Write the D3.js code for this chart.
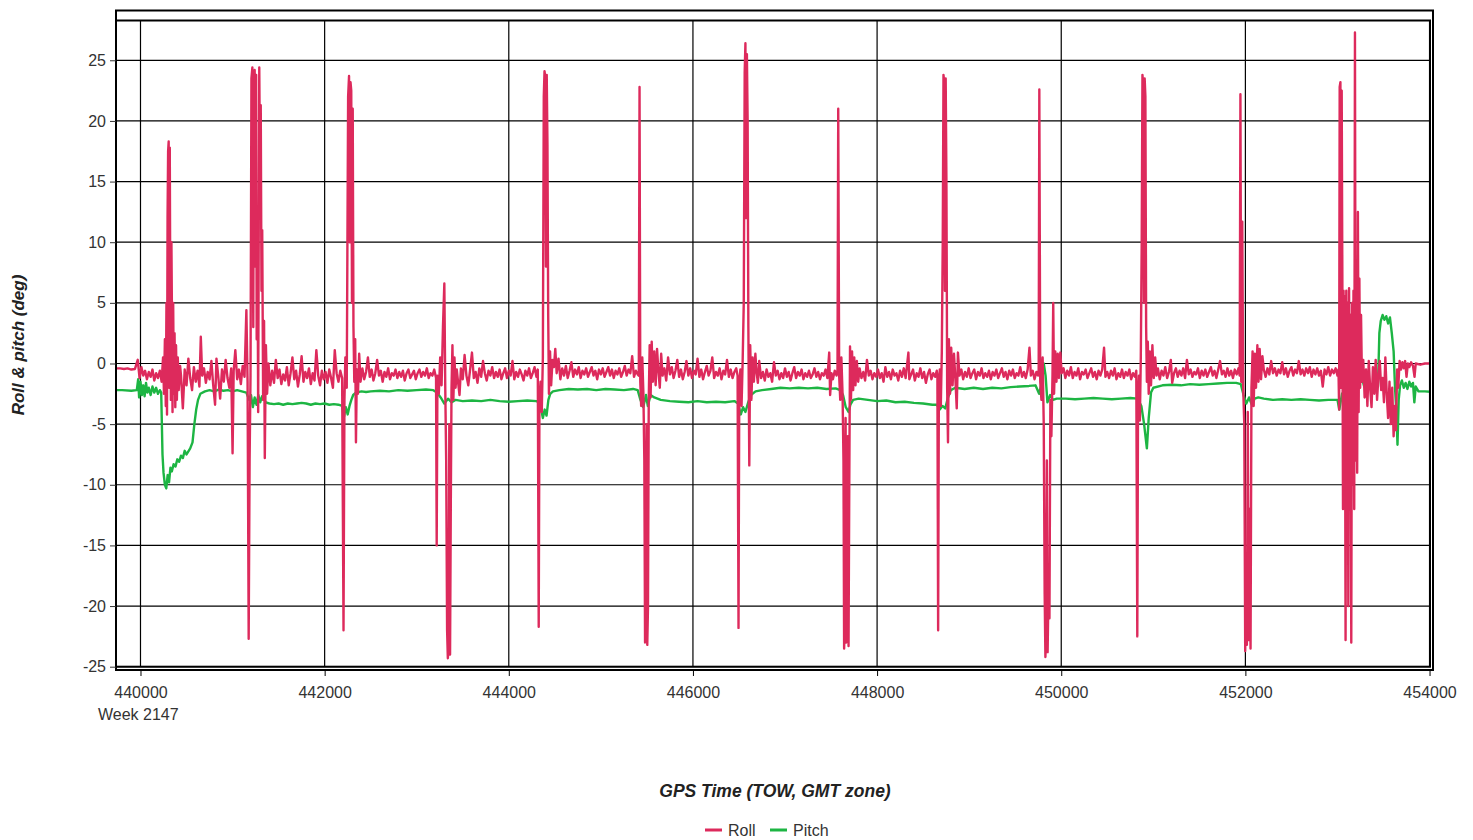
<!DOCTYPE html>
<html><head><meta charset="utf-8">
<script src="https://cdn.jsdelivr.net/npm/d3@7"></script>
<style>html,body{margin:0;padding:0;background:#fff;} svg{display:block;font-family:"Liberation Sans",Arial,sans-serif;}</style>
</head><body><svg id="chart" width="1473" height="840"></svg>
<script>
// ---------------- data ----------------
const seriesNames = ["Roll", "Pitch"];
const xTicks = [440000, 442000, 444000, 446000, 448000, 450000, 452000, 454000];
const yTicks = [-25, -20, -15, -10, -5, 0, 5, 10, 15, 20, 25];
const xDomain = [439734, 454005];
const yDomain = [-25, 28.28];
const weekLabel = "Week 2147";
const xTitle = "GPS Time (TOW, GMT zone)";
const yTitle = "Roll & pitch (deg)";

// [GPS time (TOW), roll deg]
const rollPoints = [
[439739,-0.4],[439780,-0.4],[439820,-0.45],[439860,-0.4],[439900,-0.5],[439940,-0.45],[439970,0.3],[439990,-1.2],[440010,-0.3],[440030,-1.0],[440050,-0.6],[440070,-1.3],[440090,-0.7],[440110,-1.1],[440130,-0.5],[440150,-1.4],[440170,-0.8],[440190,-1.2],[440210,-0.6],[440230,-1.5],[440245,0.5],[440255,-2.5],[440265,2.0],
[440275,-3.5],[440282,5.0],[440288,-4.2],[440294,12.0],[440300,17.5],[440306,18.3],[440312,-2.0],[440318,17.8],[440324,4.8],[440330,-3.0],[440336,10.0],[440342,3.5],[440348,-4.0],[440355,5.0],[440362,-2.5],[440370,2.5],[440378,-3.6],[440386,1.5],[440395,-3.0],[440405,0.5],[440415,-2.2],[440430,-0.2],
[440440,-1.0],[440460,-3.7],[440480,-0.5],[440500,-1.8],[440520,0.4],[440540,-1.2],[440560,-2.2],[440580,-0.3],[440600,-1.5],[440620,-0.6],[440640,-1.9],[440655,2.2],[440670,-1.0],[440690,-0.4],[440710,-1.6],[440730,-0.7],[440750,-1.3],[440770,0.2],[440790,-1.8],[440810,-3.4],[440825,0.4],[440845,-1.1],[440865,-2.9],[440885,-0.5],[440905,-1.5],[440925,0.3],[440945,-1.2],[440965,-2.0],[440985,-0.4],[441000,-7.4],[441012,-0.6],[441030,1.1],[441050,-1.3],[441070,-0.5],[441090,-1.7],[441110,-0.2],[441130,-1.1],[441150,4.4],[441163,-1.5],
[441175,-22.7],[441185,-8],[441195,-1.0],[441205,23.5],[441215,24.4],[441225,3],[441232,24.0],[441240,24.2],[441248,8],[441256,23.8],[441262,2],[441270,12],[441278,-4.0],[441290,24.4],[441298,16],[441306,21.3],[441314,6],[441322,11],[441332,-3.0],[441342,3.5],[441350,-7.8],[441362,1.5],[441375,-2.5],[441390,0.0],[441410,-1.8],
[441430,-0.6],[441450,-1.6],[441470,0.3],[441490,-1.2],[441510,-0.5],[441530,-1.7],[441550,-0.9],[441570,-1.4],[441590,-0.3],[441610,-1.8],[441630,-0.8],[441650,0.5],[441670,-1.3],[441690,-0.6],[441710,-1.9],[441730,-0.9],[441750,0.6],[441770,-1.5],[441790,-0.7],[441810,-1.2],[441830,-0.4],[441850,-1.7],[441870,-0.8],[441890,-1.4],[441910,1.1],[441930,-1.0],[441950,-1.8],[441970,-0.6],[441990,-1.3],[442010,-0.7],[442030,-1.6],[442050,-0.5],[442070,-1.2],[442090,-2.0],[442110,1.1],[442130,-0.8],[442150,-1.5],[442170,-0.6],[442190,-1.2],
[442205,-22.0],[442215,-3],[442225,0.5],[442240,-2],[442255,22],[442265,23.7],[442273,10],[442281,23.2],[442289,22.5],[442297,5],[442305,21],[442313,3],[442322,-1.5],[442332,2],[442340,-6.5],[442350,-0.5],[442362,-2.5],[442375,0.8],[442390,-1.5],
[442410,-0.4],[442430,-1.3],[442450,-0.7],[442470,0.5],[442490,-1.1],[442510,-0.5],[442530,-1.4],[442550,-0.8],[442570,0.3],[442590,-1.0],[442610,-0.6],[442630,-1.5],[442650,-0.7],[442670,-1.1],[442690,-0.4],[442710,-1.3],[442730,-0.8],[442750,-1.0],[442770,-0.5],[442790,-1.2],[442810,-0.7],[442830,-1.1],[442850,-0.6],[442870,-1.4],[442890,-0.8],[442910,-0.5],[442930,-1.2],[442950,-0.9],[442970,-0.6],[442990,-1.3],[443010,-0.8],[443030,-0.5],[443050,-1.1],[443070,-0.7],[443090,-1.0],[443110,-0.4],[443130,-1.2],[443150,-0.8],[443170,-1.0],[443190,-0.5],
[443210,-1.2],[443217,-15.0],[443225,-1],[443240,-2.5],[443255,0.5],[443270,-1.8],[443285,3],[443300,6.6],[443310,-2],[443320,-8],[443330,-22],[443338,-24.3],[443346,-23.5],[443354,-5],[443362,-24.0],[443370,-12],[443378,-2],[443388,1.5],[443398,-3.0],[443410,0.5],[443422,-2.0],[443435,-0.5],
[443450,-1.6],[443465,-2.6],[443480,-0.4],[443500,-1.3],[443520,0.7],[443540,-1.0],[443560,-1.8],[443580,-0.5],[443600,0.9],[443620,-1.2],[443640,-0.7],[443660,-1.6],[443680,-0.4],[443700,-1.1],[443720,0.2],[443740,-0.8],[443760,-1.4],[443780,-0.6],[443800,-1.0],[443820,-0.3],[443840,-1.2],[443860,-0.7],[443880,-1.1],[443900,-0.5],[443920,-1.3],[443940,-0.8],[443960,-0.4],[443980,-1.2],[444000,-0.6],[444020,-1.0],[444040,0.2],[444060,-1.3],[444080,-0.7],[444100,-1.1],[444120,-0.5],[444140,-0.9],[444160,-1.4],[444180,-0.6],[444200,-1.0],[444220,-0.4],[444240,-1.2],[444260,-0.8],[444280,-0.3],[444300,-1.1],
[444315,-0.5],[444325,-21.7],[444333,-3],[444345,-1.5],[444358,-4],[444370,0.5],[444380,22],[444388,24.1],[444396,23.6],[444404,8],[444412,23.8],[444420,18],[444428,4],[444436,-2.5],[444448,1.0],[444460,-1.8],[444475,0.3],
[444490,-0.3],[444505,1.2],[444520,-0.8],[444540,0.4],[444560,-1.3],[444580,-0.4],[444600,-1.0],[444620,-0.2],[444640,-1.2],[444660,-0.6],[444680,0.1],[444700,-1.1],[444720,-0.5],[444740,-0.9],[444760,-0.3],[444780,-1.2],[444800,-0.6],[444820,-0.9],[444840,-0.4],[444860,-1.1],[444880,-0.7],[444900,-0.3],[444920,-1.0],[444940,-0.6],[444960,-1.3],[444980,-0.5],[445000,-0.9],[445020,-0.4],[445040,-1.1],[445060,-0.7],[445080,-0.3],[445100,-1.0],[445120,-0.5],[445140,-1.2],[445160,-0.6],[445180,-0.9],[445200,-0.4],[445220,-1.1],[445240,-0.7],[445260,-0.2],[445280,-1.0],[445300,-0.5],[445320,-0.8],[445340,0.6],[445360,-1.1],[445380,-0.6],[445400,-0.9],
[445412,-1.0],[445420,22.8],[445428,-1.5],[445438,-3.5],[445450,0.5],[445462,-2.5],[445472,-8],[445480,-23.0],[445488,-22.5],[445496,-5],[445504,-23.2],[445512,-20],[445520,-3],[445530,1.5],[445540,-2.8],[445552,1.8],[445565,-1.5],[445580,1.0],
[445595,-1.8],[445610,1.2],[445625,-0.6],[445640,-2.0],[445655,0.8],[445670,-1.0],[445690,-0.4],[445710,-1.4],[445730,0.5],[445750,-0.9],[445770,-0.3],[445790,-1.2],[445810,-0.6],[445830,0.3],[445850,-1.1],[445870,-0.5],[445890,-1.3],[445910,-0.7],[445930,0.2],[445950,-1.0],[445970,-0.4],[445990,-1.2],[446010,-0.6],[446030,-0.9],[446050,0.4],[446070,-1.1],[446090,-0.5],[446110,-1.3],[446130,-0.7],[446150,-0.2],[446170,-1.0],[446190,-0.6],[446210,0.5],[446230,-1.2],[446250,-0.7],[446270,-1.0],[446290,-0.4],[446310,-1.3],[446330,-0.6],[446350,-0.9],[446370,0.3],[446390,-1.1],[446410,-0.5],[446430,-1.2],[446450,-0.7],[446470,-0.4],[446485,-1.0],
[446495,-21.8],[446503,-2],[446515,-0.5],[446528,-3.5],[446540,0.2],[446552,5],[446562,24],[446570,26.4],[446578,12],[446586,25.5],[446594,20],[446602,3],[446612,-8.4],[446622,1.5],[446635,-3.0],[446648,0.5],[446662,-1.5],[446678,0.8],
[446690,-0.6],[446705,-1.6],[446720,0.2],[446740,-1.2],[446760,-0.7],[446780,-1.4],[446800,-0.5],[446820,-1.1],[446840,-0.8],[446860,-1.5],[446880,0.1],[446900,-1.0],[446920,-0.6],[446940,-1.3],[446960,-0.8],[446980,-1.2],[447000,-0.4],[447020,-1.1],[447040,-0.7],[447060,-1.4],[447080,-0.8],[447100,-0.3],[447120,-1.2],[447140,-0.7],[447160,-1.0],[447180,-0.5],[447200,-1.3],[447220,-0.8],[447240,-1.1],[447260,-0.6],[447280,-1.2],[447300,-0.9],[447320,-0.4],[447340,-1.1],[447360,-0.7],[447380,-1.3],[447400,-0.8],[447420,-1.0],[447440,-0.5],[447460,-1.2],[447480,0.9],[447490,-2.6],[447505,-0.8],[447520,-1.3],[447540,-0.6],[447560,-1.0],
[447570,-0.5],[447578,21.0],[447588,-1.0],[447600,-3.0],[447612,0.5],[447625,-2.5],[447635,-8],[447642,-23.5],[447650,-21],[447658,-4.5],[447666,-23.0],[447674,-22.5],[447682,-6],[447690,-23.3],[447698,-10],[447706,1.4],[447716,-3.0],[447728,1.0],[447740,-2.2],[447752,0.5],[447765,-1.8],
[447780,0.2],[447795,-1.5],[447810,-0.4],[447830,-1.2],[447850,-0.7],[447870,-1.4],[447890,0.3],[447910,-1.0],[447930,-0.6],[447950,-1.3],[447970,-0.8],[447990,-1.1],[448010,-0.5],[448030,-1.2],[448050,-0.8],[448070,-1.5],[448090,-0.3],[448110,-1.1],[448130,-0.7],[448150,-1.3],[448170,-0.5],[448190,-1.0],[448210,-0.8],[448230,-1.4],[448250,-0.6],[448270,-1.1],[448290,-0.4],[448310,-1.2],[448340,0.9],[448350,-1.3],[448370,-0.9],[448390,-0.5],[448410,-1.4],[448430,-0.8],[448450,-1.1],[448470,-0.4],[448490,-1.2],[448510,-0.7],[448530,-1.6],[448550,-0.9],[448570,-0.5],[448590,-1.3],[448610,-0.8],[448630,-1.1],[448648,-0.6],
[448655,-1.0],[448663,-22.0],[448671,-2.0],[448681,-0.5],[448692,-3.5],[448703,1.0],[448713,10],[448721,23.8],[448729,23.2],[448737,6],[448745,23.5],[448753,15],[448761,-2],[448770,-6.5],[448780,2.0],[448792,-2.5],[448805,1.3],[448820,-1.8],[448835,0.8],[448850,-1.2],
[448865,-3.7],[448878,0.9],[448895,-1.0],[448915,-0.5],[448935,-1.3],[448955,-0.7],[448975,-1.1],[448995,-0.4],[449015,-1.2],[449035,-0.8],[449055,-0.5],[449075,-1.3],[449095,-0.7],[449115,-1.0],[449135,-0.4],[449155,-1.2],[449175,-0.8],[449195,-1.1],[449215,-0.6],[449235,-1.3],[449255,-0.7],[449275,-1.0],[449295,-0.5],[449315,-1.2],[449335,-0.8],[449355,-0.4],[449375,-1.1],[449395,-0.7],[449415,-1.3],[449435,-0.6],[449455,-1.0],[449475,-0.5],[449495,-1.2],[449515,-0.8],[449535,-1.0],[449555,-0.3],[449575,-1.1],[449595,-0.7],[449615,-1.2],[449635,-0.5],[449655,1.3],[449670,-1.0],[449690,-0.6],[449710,-1.3],[449730,-0.7],[449748,-1.0],
[449755,-0.5],[449762,22.6],[449772,-1.5],[449785,-3.0],[449798,0.5],[449810,-5],[449820,-19],[449828,-24.2],[449836,-22],[449844,-8],[449852,-23.8],[449862,-18.5],[449872,-21],[449882,-3],[449893,-6],[449905,-1],[449913,5.0],[449922,-2.5],[449935,1.0],[449948,-1.5],[449962,0.8],
[449975,-1.2],[449990,0.9],[450005,-0.8],[450025,-0.4],[450045,-1.2],[450065,-0.6],[450085,-1.0],[450105,-0.3],[450125,-1.2],[450145,-0.7],[450165,-1.0],[450185,-0.4],[450205,-1.3],[450225,-0.7],[450245,-0.9],[450265,-0.5],[450285,-1.2],[450305,-0.8],[450325,-0.4],[450345,-1.1],[450365,-0.7],[450385,-1.3],[450405,-0.6],[450425,-1.0],[450445,-0.5],[450465,1.3],[450480,-1.1],[450500,-0.7],[450520,-1.2],[450540,-0.6],[450560,-1.0],[450580,-0.4],[450600,-1.3],[450620,-0.8],[450640,-1.1],[450660,-0.5],[450680,-1.2],[450700,-0.7],[450720,-1.0],[450740,-0.5],[450760,-1.3],[450780,-0.8],[450800,-1.1],[450815,-0.6],
[450826,-22.5],[450834,-3],[450844,-1.0],[450854,-4.7],[450864,0.5],[450874,10],[450882,23.8],[450890,23.0],[450898,5],[450906,23.5],[450914,22],[450922,3],[450930,-1.5],[450940,1.8],[450950,-2.5],[450962,1.0],[450975,-1.8],[450990,1.5],[451005,-1.2],[451020,0.5],
[451035,-1.0],[451050,-0.4],[451070,-1.3],[451090,-0.6],[451110,-1.0],[451130,-0.3],[451150,-1.2],[451170,-0.7],[451190,0.3],[451205,-1.6],[451225,-0.8],[451245,-0.4],[451265,-1.1],[451285,-0.6],[451305,-1.0],[451325,-0.4],[451345,-1.2],[451365,0.3],[451385,-0.9],[451405,-0.5],[451425,-1.1],[451445,-0.7],[451465,-0.9],[451485,-0.4],[451505,-1.2],[451525,-0.6],[451545,-1.0],[451565,-0.5],[451585,-1.1],[451605,-0.7],[451625,-0.3],[451645,-1.0],[451665,-0.6],[451685,-1.2],[451705,-0.5],[451725,0.2],[451745,-0.9],[451765,-0.6],[451785,-1.1],[451805,-0.4],[451825,-1.0],[451845,-0.6],[451865,-1.2],[451885,-0.5],[451905,-0.9],[451925,-0.4],[451938,-1.0],
[451946,22.2],[451955,-1.5],[451966,11.7],[451976,-2],[451988,-5],[451998,-23.7],[452008,-17.5],[452016,-23.2],[452026,-4],[452036,-22.8],[452046,-12],[452056,-23.5],[452066,-2],[452078,1.0],[452090,-3.5],[452102,0.8],[452115,-2.0],[452130,1.5],[452142,-1.5],[452155,1.2],[452170,-1.3],[452185,0.6],
[452200,-0.5],[452220,-1.1],[452240,-0.4],[452260,-0.9],[452280,0.2],[452300,-0.8],[452320,-0.4],[452340,-1.0],[452360,-0.5],[452380,-0.8],[452400,0.1],[452420,-0.9],[452440,-0.4],[452460,-1.1],[452480,-0.6],[452500,-0.3],[452520,-1.0],[452540,-0.5],[452560,-0.8],[452580,0.2],[452600,-0.9],[452620,-0.5],[452640,-1.0],[452660,-0.4],[452680,-0.8],[452700,-0.3],[452720,-1.1],[452740,-0.5],[452760,-0.9],[452780,-0.4],[452800,-1.0],[452820,-0.6],[452840,-1.9],[452860,-0.5],[452880,-0.9],[452900,-0.3],[452920,-1.0],[452940,-0.5],[452960,-0.8],[452980,-0.4],[453000,-1.0],
[453011,-0.5],[453018,-3.8],[453024,22.8],[453032,23.2],[453040,-2],[453046,22.5],[453054,5],[453060,-12],[453066,6],[453072,-10],[453080,5.5],[453088,-22.8],[453096,6],[453104,-11],[453110,5],[453118,-20],[453126,6.2],[453134,-12],[453142,4],[453150,-23.0],[453158,5],[453166,-10],[453174,6],[453182,-12],[453190,27.3],[453198,-8],[453206,6.5],[453214,-9],[453222,12.5],[453230,-4],[453238,7],[453246,-2],[453256,4],[453266,-1.5],
[453280,0.3],[453295,-2.8],[453310,-0.5],[453325,-3.5],[453340,0.2],[453355,-2.0],[453370,-3.6],[453385,-0.3],[453400,-2.5],[453415,0.3],[453430,-3.0],[453445,-1.0],[453460,0.2],[453475,-2.2],[453490,-1.2],[453505,-3.2],[453520,0.5],[453535,-2.5],[453550,-4.5],[453565,-1.5],[453580,-5.0],[453595,-2.0],[453610,-6.0],[453622,-3.5],[453635,-5.5],[453648,-0.5],[453660,-2.0],[453675,0.2],[453690,-0.5],[453705,0.1],[453720,-0.4],[453735,0.2],[453750,-1.1],[453765,0.0],[453780,-0.3],[453800,0.1],[453820,-0.2],[453837,-1.1],[453850,0.0],[453900,-0.1],[453950,0.0],[454000,0.0],[454043,0.0]
];

// [GPS time (TOW), pitch deg]
const pitchPoints = [
[439739,-2.2],[439800,-2.2],[439900,-2.25],[439960,-2.2],[439975,-1.3],[439985,-2.8],[440000,-1.5],[440015,-2.6],[440030,-1.8],[440045,-2.7],[440060,-1.6],[440075,-2.4],[440090,-2.0],[440110,-2.6],[440130,-1.9],[440150,-2.4],[440170,-2.0],[440190,-2.5],[440210,-2.2],[440225,-2.4],
[440239,-7.5],[440250,-9.0],[440265,-10.0],[440280,-10.3],[440295,-9.2],[440310,-9.8],[440325,-8.6],[440340,-8.9],[440360,-8.3],[440380,-8.5],[440400,-7.9],[440420,-8.1],[440440,-7.6],[440460,-7.8],[440480,-7.2],[440500,-7.5],[440540,-7.0],[440565,-6.5],[440585,-5.0],[440605,-3.8],[440625,-3.0],[440650,-2.5],[440700,-2.3],
[440750,-2.2],[440800,-2.3],[440850,-2.15],[440900,-2.25],[440950,-2.2],[441000,-2.3],[441050,-2.2],[441100,-2.3],[441150,-2.4],[441180,-3.0],[441200,-2.6],[441220,-3.6],[441240,-2.8],[441260,-3.4],[441280,-2.6],[441300,-3.2],[441320,-2.7],[441340,-2.9],[441360,-3.2],
[441400,-3.3],[441450,-3.35],[441500,-3.3],[441550,-3.4],[441600,-3.3],[441650,-3.35],[441700,-3.3],[441750,-3.25],[441800,-3.3],[441850,-3.4],[441900,-3.3],[441950,-3.35],[442000,-3.3],[442050,-3.4],[442100,-3.35],[442150,-3.4],[442190,-3.5],[442210,-4.4],[442230,-3.6],[442250,-4.2],[442270,-3.5],[442290,-3.0],[442310,-2.6],[442340,-2.4],
[442400,-2.3],[442450,-2.35],[442500,-2.3],[442600,-2.25],[442700,-2.3],[442800,-2.2],[442900,-2.25],[443000,-2.2],[443100,-2.15],[443180,-2.2],[443220,-2.4],[443260,-2.8],[443300,-3.3],[443340,-2.9],[443380,-3.2],[443420,-3.0],
[443500,-3.1],[443600,-3.05],[443700,-3.1],[443800,-3.0],[443900,-3.1],[444000,-3.15],[444100,-3.1],[444200,-3.05],[444300,-3.1],[444340,-3.3],[444370,-4.5],[444390,-3.8],[444410,-4.3],[444430,-3.0],[444450,-2.5],[444480,-2.3],
[444550,-2.2],[444650,-2.1],[444750,-2.15],[444850,-2.1],[444950,-2.2],[445050,-2.1],[445150,-2.15],[445250,-2.2],[445350,-2.1],[445400,-2.2],[445430,-3.0],[445460,-3.6],[445490,-2.6],[445510,-3.5],[445540,-2.6],[445580,-2.8],
[445650,-3.0],[445750,-3.1],[445850,-3.15],[445950,-3.2],[446050,-3.1],[446150,-3.2],[446250,-3.15],[446350,-3.2],[446450,-3.1],[446490,-3.3],[446520,-4.2],[446545,-3.6],[446570,-4.0],[446600,-3.2],[446630,-2.6],[446680,-2.3],
[446750,-2.2],[446850,-2.1],[446950,-2.0],[447050,-2.05],[447150,-2.0],[447250,-2.05],[447350,-2.0],[447450,-2.1],[447550,-2.05],[447600,-2.2],[447630,-2.6],[447660,-3.6],[447690,-4.0],[447710,-3.4],[447740,-3.0],
[447800,-2.9],[447900,-3.0],[448000,-3.1],[448100,-3.05],[448200,-3.2],[448300,-3.15],[448400,-3.25],[448500,-3.3],[448600,-3.4],[448650,-3.4],[448680,-3.8],[448710,-3.5],[448740,-3.7],[448770,-2.8],[448800,-2.2],
[448850,-2.0],[448950,-2.1],[449050,-2.0],[449150,-2.1],[449250,-2.0],[449350,-2.05],[449450,-1.95],[449550,-1.9],[449650,-1.85],[449720,-1.8],[449760,-2.5],[449790,-1.5],[449810,0.0],[449830,-1.0],[449850,-3.2],[449880,-2.6],[449910,-3.0],
[449950,-2.9],[450050,-2.9],[450150,-2.95],[450250,-2.9],[450350,-2.85],[450450,-2.9],[450550,-2.95],[450650,-2.9],[450750,-2.85],[450830,-2.9],[450870,-3.5],[450900,-5.0],[450930,-7.0],[450950,-4.5],[450975,-2.4],
[451000,-2.0],[451100,-1.8],[451200,-1.75],[451300,-1.8],[451400,-1.7],[451500,-1.75],[451600,-1.7],[451700,-1.65],[451800,-1.6],[451900,-1.6],[451950,-1.7],[451980,-2.6],[452010,-3.3],[452040,-2.8],[452070,-3.4],[452100,-2.9],[452140,-2.8],
[452200,-2.9],[452300,-3.0],[452400,-2.95],[452500,-3.0],[452600,-2.95],[452700,-3.0],[452800,-3.05],[452900,-3.0],[453000,-3.0],[453020,-3.8],[453050,-2.5],[453100,-2.0],[453200,-1.8],[453260,-1.0],[453290,-1.9],[453350,-1.9],[453440,-1.9],
[453455,2.5],[453470,3.5],[453490,4.0],[453510,3.6],[453530,3.9],[453550,3.3],[453570,3.8],[453590,2.5],[453610,1.0],[453625,-2.0],[453640,-4.0],[453652,-6.7],[453665,-3.0],[453680,-1.8],[453700,-1.4],[453720,-2.0],[453740,-1.6],[453760,-2.1],[453780,-1.5],[453800,-1.9],[453820,-1.6],[453835,-3.2],[453850,-1.9],[453880,-2.3],[453950,-2.3],[454043,-2.35]
];

// ---------------- drawing ----------------
const colors = {Roll: "#dd2a5c", Pitch: "#1db543"};
const svg = d3.select("#chart");
const L = 116, R = 1430, T = 20.5, B = 666.7;
const x = d3.scaleLinear().domain(xDomain).range([L, R]);
const y = d3.scaleLinear().domain(yDomain).range([B, T]);

svg.append("rect").attr("width", 1473).attr("height", 840).attr("fill", "#fff");

svg.append("defs").append("clipPath").attr("id", "clip")
  .append("rect").attr("x", L).attr("y", T).attr("width", R - L).attr("height", B - T);

// grid
const grid = svg.append("g").attr("stroke", "#000").attr("stroke-width", 1.2);
grid.selectAll(".gy").data(yTicks).join("line")
  .attr("x1", L).attr("x2", R).attr("y1", d => y(d)).attr("y2", d => y(d));
grid.selectAll(".gx").data(xTicks).join("line")
  .attr("y1", T).attr("y2", B).attr("x1", d => x(d)).attr("x2", d => x(d));

// series
const line = d3.line().x(d => x(d[0])).y(d => y(d[1]));
const plot = svg.append("g").attr("clip-path", "url(#clip)");
plot.append("path").datum(pitchPoints).attr("d", line)
  .attr("fill", "none").attr("stroke", colors.Pitch).attr("stroke-width", 2.4).attr("stroke-linejoin", "round");
plot.append("path").datum(rollPoints).attr("d", line)
  .attr("fill", "none").attr("stroke", colors.Roll).attr("stroke-width", 2.4).attr("stroke-linejoin", "round");

// frames
svg.append("rect").attr("x", L).attr("y", T).attr("width", R - L).attr("height", B - T)
  .attr("fill", "none").attr("stroke", "#000").attr("stroke-width", 2);
svg.append("rect").attr("x", L).attr("y", 10.5).attr("width", 1433 - L).attr("height", 670 - 10.5)
  .attr("fill", "none").attr("stroke", "#000").attr("stroke-width", 2);

// axes
const yAxis = d3.axisLeft(y).tickValues(yTicks).tickSize(6).tickPadding(4).tickFormat(d => String(d));
const gy = svg.append("g").attr("transform", `translate(${L},0)`).call(yAxis);
gy.select(".domain").remove();
gy.selectAll("line").attr("stroke", "#333");
gy.selectAll("text").attr("font-size", 16).attr("fill", "#333").attr("font-family", "Liberation Sans, Arial, sans-serif");

const xAxis = d3.axisBottom(x).tickValues(xTicks).tickSize(6).tickPadding(10.5).tickFormat(d => String(d));
const gx = svg.append("g").attr("transform", `translate(0,670)`).call(xAxis);
gx.select(".domain").remove();
gx.selectAll("line").attr("stroke", "#000");
gx.selectAll("text").attr("font-size", 16).attr("fill", "#333").attr("font-family", "Liberation Sans, Arial, sans-serif");

svg.append("text").attr("x", 98).attr("y", 720).attr("font-size", 16).attr("fill", "#333").text(weekLabel);

// titles
svg.append("text").attr("x", 775).attr("y", 797).attr("text-anchor", "middle")
  .attr("font-size", 17.5).attr("font-weight", "bold").attr("font-style", "italic").attr("fill", "#222").text(xTitle);
svg.append("text").attr("transform", "translate(24,345) rotate(-90)").attr("text-anchor", "middle")
  .attr("font-size", 17).attr("font-weight", "bold").attr("font-style", "italic").attr("fill", "#222").text(yTitle);

// legend
const legendX = [705, 770];
const lg = svg.append("g");
seriesNames.forEach((name, i) => {
  lg.append("line").attr("x1", legendX[i]).attr("x2", legendX[i] + 17).attr("y1", 830).attr("y2", 830)
    .attr("stroke", colors[name]).attr("stroke-width", 3);
  lg.append("text").attr("x", legendX[i] + 23).attr("y", 836).attr("font-size", 16).attr("fill", "#333").text(name);
});
</script></body></html>
